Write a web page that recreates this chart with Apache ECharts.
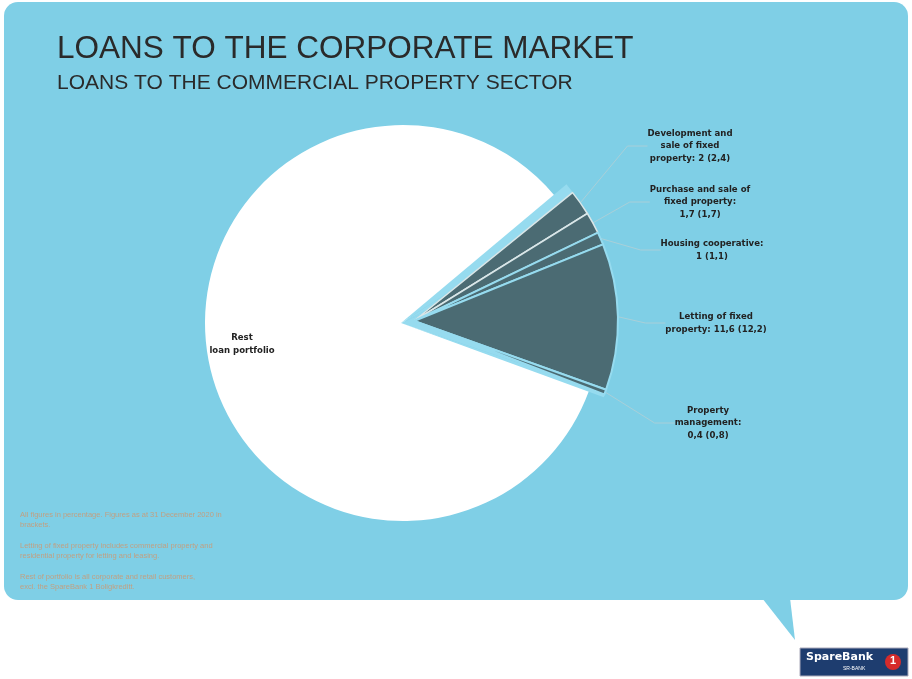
<!DOCTYPE html>
<html><head><meta charset="utf-8">
<script src="https://cdn.jsdelivr.net/npm/echarts@6/dist/echarts.min.js"></script>
<style>html,body{margin:0;padding:0;background:#fff;}#c{width:912px;height:679px;}</style>
</head><body><div id="c"></div>
<script>
const categories = ['Development and\nsale of fixed\nproperty: 2 (2,4)', 'Purchase and sale of\nfixed property:\n1,7 (1,7)', 'Housing cooperative:\n1 (1,1)', 'Letting of fixed\nproperty: 11,6 (12,2)', 'Property\nmanagement:\n0,4 (0,8)', 'Rest\nloan portfolio'];
const values = [2, 1.7, 1, 11.6, 0.4, 83.3];
const title = 'LOANS TO THE CORPORATE MARKET';
const subtitle = 'LOANS TO THE COMMERCIAL PROPERTY SECTOR';
const footnotes = ['All figures in percentage. Figures as at 31 December 2020 in\nbrackets.', 'Letting of fixed property includes commercial property and\nresidential property for letting and leasing.', 'Rest of portfolio is all corporate and retail customers,\nexcl. the SpareBank 1 Boligkreditt.'];

const labelPos = [[690,146],[700,202],[712,250],[716,323],[708,423],[242,344]];
const DARK = '#4b6b73', BG = '#7fcfe6', CYAN = '#96dbef';
const chart = echarts.init(document.getElementById('c'));
const REST = values.length - 1;

const inner = values.map((v,i)=>({name:categories[i], value:v,
  itemStyle: i===REST ? {color:'#ffffff'} : {color:'rgba(0,0,0,0)'},
  label: {show: i===REST}, labelLine:{show:false}}));
const wedge = values.map((v,i)=>({name:categories[i], value:v,
  itemStyle: i===REST ? {color:'rgba(0,0,0,0)'} : {color:CYAN},
  label:{show:false}, labelLine:{show:false}}));
const outer = values.map((v,i)=>({name:categories[i], value:v,
  itemStyle: i===REST ? {color:'rgba(0,0,0,0)', borderWidth:0} :
   {color:DARK, borderColor: (i===1 || i===0 ? '#d9e6e8' : CYAN), borderWidth: (i===0||i===1)?1.5:2},
  label:{show: i!==REST}, labelLine:{show: i!==REST}}));

const labelFont = {color:'#222', fontSize:9.5, fontWeight:'bold', lineHeight:12.5, fontFamily:'"DejaVu Sans Condensed", "DejaVu Sans", sans-serif', align:'center'};
const lay = (p)=>({x:labelPos[p.dataIndex][0], y:labelPos[p.dataIndex][1], align:'center', verticalAlign:'middle'});

chart.setOption({
  animation:false,
  graphic:[
    {type:'rect', shape:{x:4,y:2,width:904,height:598,r:14}, style:{fill:BG}, z:-10},
    {type:'polygon', shape:{points:[[762,598],[795,640],[790,598]]}, style:{fill:BG}, z:-10},
    {type:'text', left:57, top:33, style:{text:title, font:'31.5px "Liberation Sans", Arial, sans-serif', fill:'#2a2a2a'}},
    {type:'text', left:57, top:73, style:{text:subtitle, font:'21px "Liberation Sans", Arial, sans-serif', fill:'#2a2a2a', letterSpacing:1.5}},
    {type:'text', left:20, top:510, style:{text:footnotes[0], font:'7.5px sans-serif', fill:'#c0a083', lineHeight:10}},
    {type:'text', left:20, top:541, style:{text:footnotes[1], font:'7.5px sans-serif', fill:'#c0a083', lineHeight:10}},
    {type:'text', left:20, top:572, style:{text:footnotes[2], font:'7.5px sans-serif', fill:'#c0a083', lineHeight:10}},
    {type:'rect', shape:{x:800,y:648,width:108,height:28}, style:{fill:'#1e3d6f', stroke:'#aab', lineWidth:1}},
    {type:'text', left:806, top:652, style:{text:'SpareBank', font:'bold 11px "DejaVu Sans", sans-serif', fill:'#fff'}},
    {type:'text', left:843, top:666, style:{text:'SR-BANK', font:'5px sans-serif', fill:'#fff'}},
    {type:'circle', shape:{cx:893,cy:662,r:8}, style:{fill:'#d62b2b'}},
    {type:'text', left:890, top:655, style:{text:'1', font:'bold 11px sans-serif', fill:'#fff'}}
  ],
  series:[
    {type:'pie', center:[403,323], radius:[0,198], startAngle:40, clockwise:true, silent:true,
     data: inner, label:labelFont, labelLayout:lay},
    {type:'pie', center:[401,323], radius:[0,216], startAngle:40, clockwise:true, silent:true,
     data: wedge},
    {type:'pie', center:[414,321], radius:[0,204], startAngle:39, clockwise:true, silent:true,
     data: outer, label:labelFont,
     labelLine:{lineStyle:{color:'#a9cfd9', width:1}, length:20, length2:20},
     labelLayout:lay}
  ]
});
</script></body></html>
